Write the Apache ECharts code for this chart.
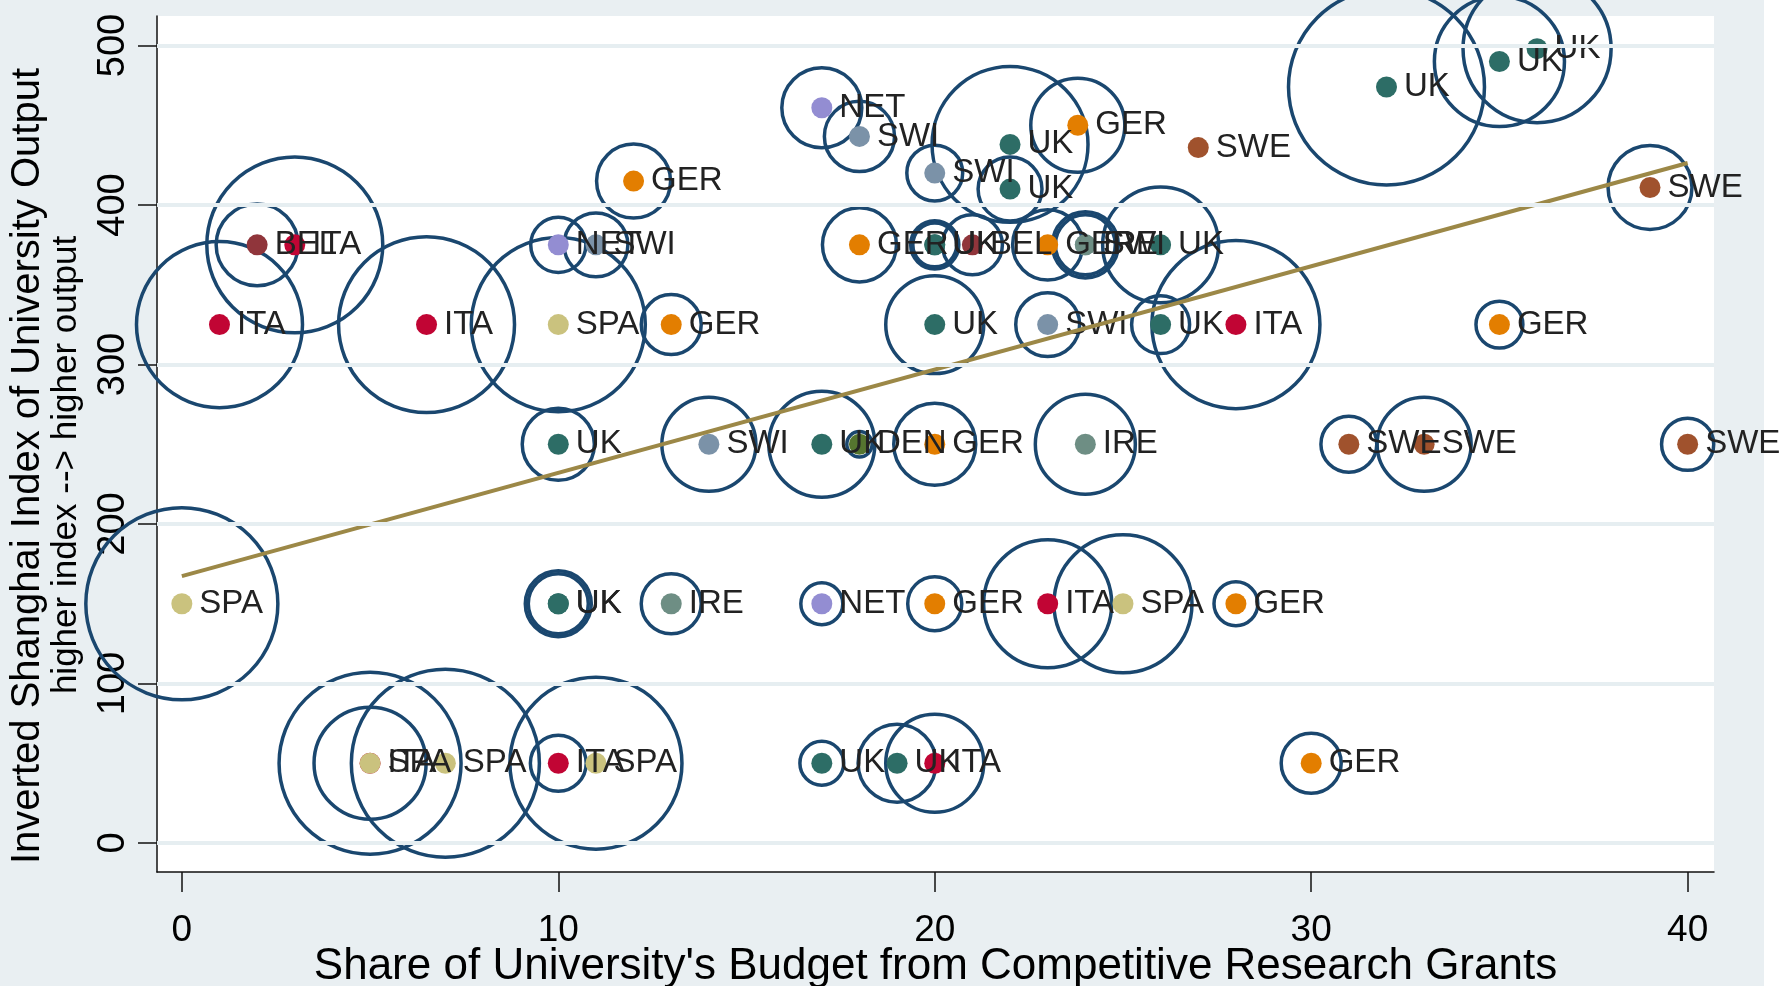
<!DOCTYPE html>
<html>
<head>
<meta charset="utf-8">
<script src="https://cdn.jsdelivr.net/npm/echarts@6/dist/echarts.min.js"></script>
<style>
  html, body { margin: 0; padding: 0; background: #e9eff2; }
  #chart { width: 1782px; height: 986px; }
</style>
</head>
<body>
<div id="chart"></div>
<script>
// one entry per university
const countries = ['SPA','UK','UK','IRE','NET','GER','ITA','SPA','GER',
  'ITA','SPA','SPA','ITA','SPA','UK','UK','ITA','GER',
  'UK','SWI','UK','DEN','GER','IRE','SWE','SWE','SWE',
  'ITA','ITA','SPA','GER','UK','SWI','UK','ITA','GER',
  'BEL','ITA','NET','SWI','GER','UK','UK','BEL','GER','SWI','IRE','UK',
  'GER','NET','SWI','SWI','UK','UK','GER','SWE','UK','UK','UK','SWE']
const grantShare = [0,10,10,13,17,20,23,25,28,
  5,5,7,10,11,17,19,20,30,
  10,14,17,18,20,24,31,33,40,
  1,6.5,10,13,20,23,26,28,35,
  2,3,10,11,18,20,20,21,23,24,24,26,
  12,17,18,20,22,22,23.8,27,32,35,36,39]
const outputIndex = [150,150,150,150,150,150,150,150,150,
  50,50,50,50,50,50,50,50,50,
  250,250,250,250,250,250,250,250,250,
  325,325,325,325,325,325,325,325,325,
  375,375,375,375,375,375,375,375,375,375,375,375,
  415,461,443,420,438,410,450,436,474,490,498,411]
const budgetWeight = [92.2,10.9,9.0,9.0,4.4,7.3,41.0,47.6,4.8,
  82.8,31.4,88.4,7.8,74.0,4.8,15.2,24.0,9.0,
  13.0,22.1,28.1,1.6,16.8,25.0,7.8,22.1,6.8,
  68.9,77.4,75.7,9.0,24.0,10.2,8.4,70.6,5.5,
  16.8,77.4,7.6,10.2,13.7,5.8,4.8,9.0,12.3,10.9,9.0,33.6,
  13.7,16.0,12.3,7.8,60.8,10.2,22.1,0,96.0,42.3,54.8,17.6]

const xTicks = [0, 10, 20, 30, 40]
const yTicks = [0, 100, 200, 300, 400, 500]
const fitX = [0, 40]
const fitY = [167.3, 426.3]

const countryColors = {
  UK: '#2d6d66', ITA: '#c10534', GER: '#e37e00', SWE: '#a0522d', SPA: '#cac27e',
  NET: '#938dd2', SWI: '#7b92a8', IRE: '#6e8e84', BEL: '#90353b', DEN: '#55752f'
}

const points = countries.map((c, i) => [grantShare[i], outputIndex[i], budgetWeight[i], c])
const fitLine = fitX.map((x, i) => [x, fitY[i]])

const chart = echarts.init(document.getElementById('chart'))
const font = '"Liberation Sans", Arial, sans-serif'

const option = {
  backgroundColor: '#e9eff2',
  animation: false,
  textStyle: { fontFamily: font },
  grid: {
    left: 157, top: 16, width: 1557, height: 856, containLabel: false, outerBoundsMode: 'none',
    show: true, backgroundColor: '#ffffff', borderWidth: 0
  },
  xAxis: {
    type: 'value', min: -0.66, max: 40.7,
    name: "Share of University's Budget from Competitive Research Grants",
    nameLocation: 'middle', nameGap: 73, nameMoveOverlap: false,
    nameTextStyle: { fontSize: 44, color: '#000', fontFamily: font },
    axisLine: { show: true, onZero: false, lineStyle: { color: '#111', width: 1.5 } },
    axisTick: { show: true, length: 20, customValues: xTicks, lineStyle: { color: '#111', width: 1.5 } },
    axisLabel: { customValues: xTicks, fontSize: 37, color: '#000', margin: 40 },
    splitLine: { show: false }
  },
  yAxis: {
    type: 'value', min: -18.2, max: 518.5,
    axisLine: { show: true, onZero: false, lineStyle: { color: '#111', width: 1.5 } },
    axisTick: { show: true, length: 19, customValues: yTicks, lineStyle: { color: '#111', width: 1.5 } },
    axisLabel: { customValues: yTicks, fontSize: 38, color: '#000', rotate: 90, margin: 24 },
    splitLine: { show: false }
  },
  graphic: [
    {
      type: 'text', x: 28, y: 466, rotation: Math.PI / 2,
      style: { text: 'Inverted Shanghai Index of University Output', font: '40px ' + font, fill: '#000',
        align: 'center', verticalAlign: 'middle', textAlign: 'center', textVerticalAlign: 'middle' }
    },
    {
      type: 'text', x: 66, y: 465, rotation: Math.PI / 2,
      style: { text: 'higher index --> higher output', font: '35px ' + font, fill: '#000',
        align: 'center', verticalAlign: 'middle', textAlign: 'center', textVerticalAlign: 'middle' }
    },
    { type: 'rect', shape: { x: 1764, y: 0, width: 18, height: 986 }, style: { fill: '#ffffff' } }
  ],
  series: [
    {
      // horizontal grid lines
      name: 'grid', type: 'line', data: [], z: 1, silent: true,
      markLine: {
        silent: true, symbol: 'none', label: { show: false },
        lineStyle: { color: '#e6eef1', width: 4, type: 'solid' },
        data: yTicks.map(v => ({ yAxis: v }))
      }
    },
    {
      name: 'bubbles', type: 'scatter', data: points, z: 2, clip: false, silent: true,
      symbol: 'circle',
      symbolSize: d => 20 * Math.sqrt(d[2]),
      itemStyle: { color: 'rgba(0,0,0,0)', borderColor: '#1a476f', borderWidth: 3.5, opacity: 1 }
    },
    {
      name: 'universities', type: 'scatter', data: points, z: 3, clip: false,
      symbolSize: 21,
      itemStyle: { color: p => countryColors[p.value[3]], opacity: 1 },
      label: {
        show: true, position: 'right', distance: 7,
        formatter: p => p.value[3],
        fontSize: 33, color: '#222', fontFamily: font
      }
    },
    {
      name: 'fit', type: 'line', data: fitLine, z: 4, symbol: 'none',
      lineStyle: { color: '#9c8847', width: 4 }
    }
  ]
}
chart.setOption(option)
</script>
</body>
</html>
